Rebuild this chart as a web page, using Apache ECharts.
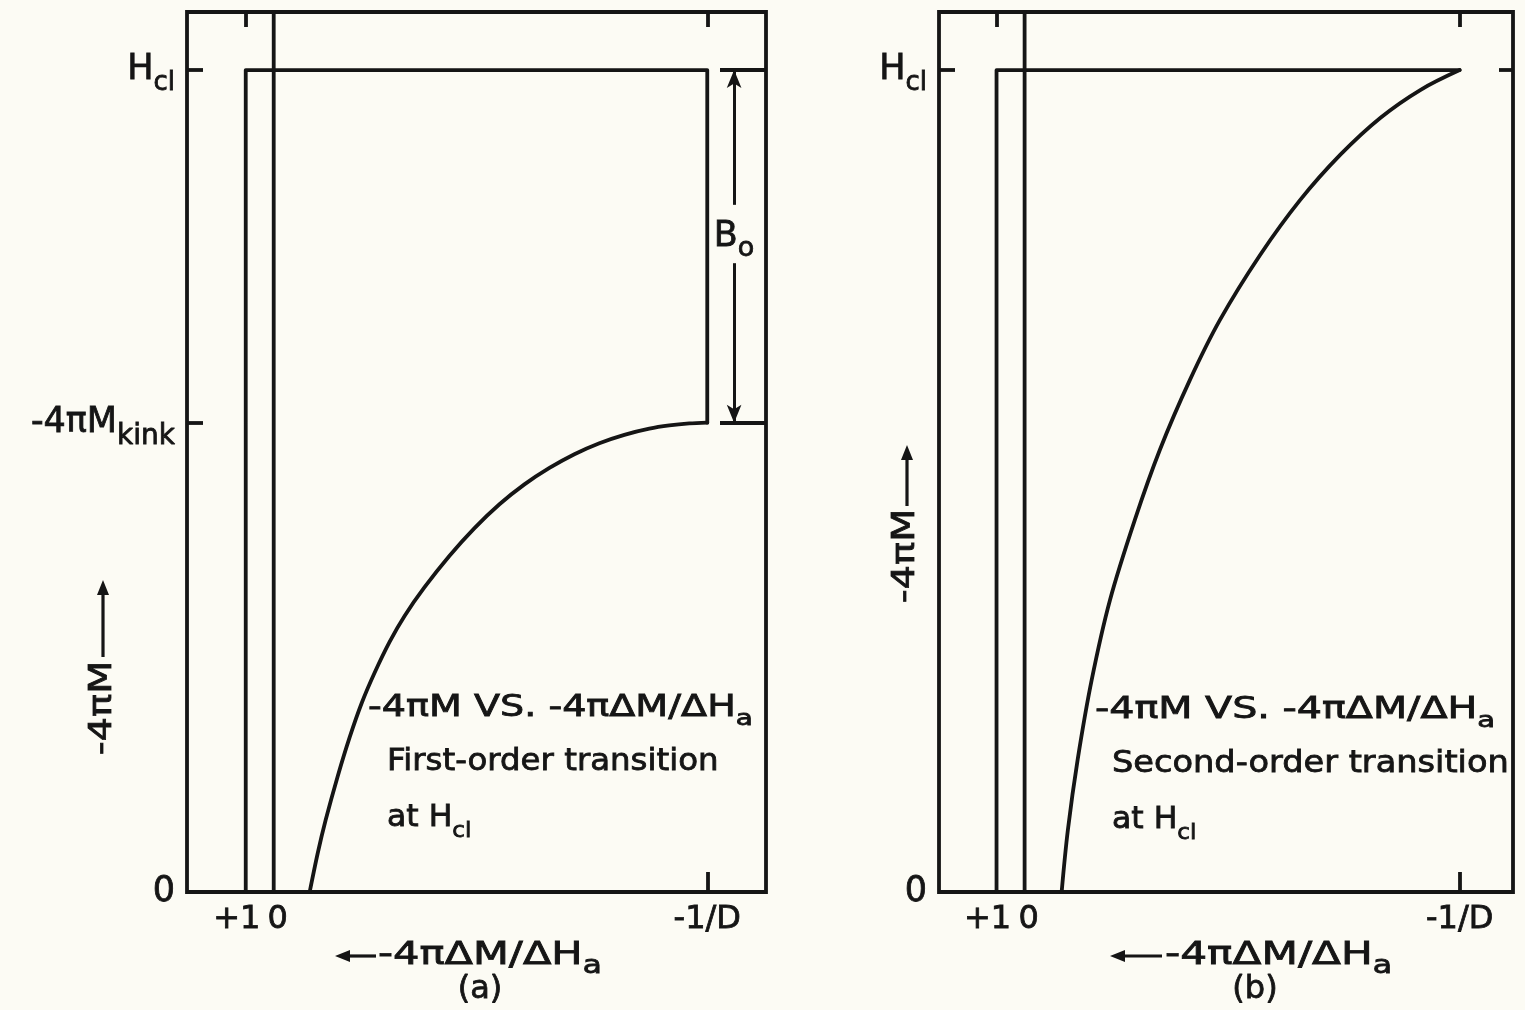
<!DOCTYPE html>
<html><head><meta charset="utf-8">
<script src="https://cdn.jsdelivr.net/npm/echarts@6/dist/echarts.min.js"></script>
<style>html,body{margin:0;padding:0;background:#fcfbf4}#c{width:1525px;height:1010px}</style>
</head><body><div id="c"></div>
<script>
// ---- data (x: -4πΔM/ΔHa in units where +1 is one step; y: -4πM in units of Hcl) ----
const HCL = 1;
const KINK = 0.571;
const INV_D = -15.5;           // position of -1/D
const Y_MAX = 1.0706;
const xTickValues = [1, 0, INV_D];
const xTickLabels = ['+1', '0', '-1/D'];
const topTickValues = [1, INV_D];

// panel (a): step path  +1 -> Hcl -> -1/D -> kink
const stepA_x = [1, 1, INV_D, INV_D];
const stepA_y = [0, HCL, HCL, KINK];
// panel (a): curve from the kink down to the axis
const curveA_x = [-15.5, -14.857, -14.143, -13.429, -12.536, -11.643, -10.75, -9.857, -8.964, -8.071, -7.179, -6.286, -5.393, -4.679, -4.143, -3.607, -3.143, -2.714, -2.286, -1.857, -1.571, -1.286];
const curveA_y = [0.571, 0.570, 0.5676, 0.5637, 0.5562, 0.5460, 0.5326, 0.5159, 0.4959, 0.4717, 0.4427, 0.4091, 0.3708, 0.3359, 0.3044, 0.2668, 0.2297, 0.1881, 0.1406, 0.0875, 0.0468, 0];

// panel (b): step path +1 -> Hcl -> -1/D
const stepB_x = [1, 1, INV_D];
const stepB_y = [0, HCL, HCL];
// panel (b): curve from Hcl down to the axis
const curveB_x = [-15.5, -14.11, -12.68, -11.25, -9.82, -8.39, -6.96, -5.89, -4.82, -3.93, -3.04, -2.39, -1.89, -1.54, -1.32];
const curveB_y = [1.0, 0.976, 0.942, 0.897, 0.842, 0.775, 0.696, 0.623, 0.538, 0.453, 0.355, 0.258, 0.161, 0.075, 0];

const zeroLine_x = [0, 0];
const zeroLine_y = [0, Y_MAX];

const zip = (xs, ys) => xs.map((x, i) => [x, ys[i]]);

// ---- styling ----
const FONT = '"DejaVu Sans", sans-serif';
const INK = '#151515';
const BG = '#fcfbf4';
const LW = 3.8;
const TB = 0.8; // text thickening stroke

const near = (a, b) => Math.abs(a - b) < 1e-6;
function xLabel(v) {
  if (near(v, 1)) return '{l|' + xTickLabels[0] + '}';
  if (near(v, 0)) return '{r|' + xTickLabels[1] + '}';
  if (near(v, INV_D)) return '{c|' + xTickLabels[2] + '}';
  return '';
}
const xRich = {
  l: { fontSize: 32, fontFamily: FONT, color: INK, textBorderColor: INK, textBorderWidth: TB, padding: [0, 18, 0, 0] },
  r: { fontSize: 32, fontFamily: FONT, color: INK, textBorderColor: INK, textBorderWidth: TB, padding: [0, 0, 0, 8] },
  c: { fontSize: 32, fontFamily: FONT, color: INK, textBorderColor: INK, textBorderWidth: TB }
};
function yLabel(v) {
  if (near(v, HCL)) return '{m|H}{s|cl}';
  if (near(v, KINK)) return '{m|-4πM}{k|kink}';
  if (near(v, 0)) return '{m|0}';
  return '';
}
const yRich = {
  m: { fontSize: 35, fontFamily: FONT, color: INK, textBorderColor: INK, textBorderWidth: TB },
  s: { fontSize: 26, fontFamily: FONT, color: INK, textBorderColor: INK, textBorderWidth: TB, padding: [26, 0, 0, 0] },
  k: { fontSize: 28, fontFamily: FONT, color: INK, textBorderColor: INK, textBorderWidth: TB, padding: [28, 0, 0, 0] }
};

function xBottom(grid, min, max) {
  return {
    type: 'value', gridIndex: grid, position: 'bottom', inverse: true, min, max,
    axisLine: { show: false, onZero: false }, splitLine: { show: false },
    axisTick: { show: true, inside: true, length: 20, customValues: [INV_D], lineStyle: { color: INK, width: LW } },
    axisLabel: { show: true, customValues: xTickValues, formatter: xLabel, rich: xRich, margin: 12,
      hideOverlap: false, showMinLabel: true, showMaxLabel: true }
  };
}
function xTop(grid, min, max) {
  return {
    type: 'value', gridIndex: grid, position: 'top', inverse: true, min, max,
    axisLine: { show: false, onZero: false }, splitLine: { show: false },
    axisTick: { show: true, inside: true, length: 15, customValues: topTickValues, lineStyle: { color: INK, width: LW } },
    axisLabel: { show: false }
  };
}
function yLeft(grid, labels, ticks) {
  return {
    type: 'value', gridIndex: grid, position: 'left', min: 0, max: Y_MAX,
    axisLine: { show: false, onZero: false }, splitLine: { show: false },
    axisTick: { show: true, inside: true, length: 16, customValues: ticks, lineStyle: { color: INK, width: LW } },
    axisLabel: { show: true, customValues: labels, formatter: yLabel, rich: yRich, margin: 12,
      hideOverlap: false, showMinLabel: true, showMaxLabel: true }
  };
}
function yRight(grid, ticks, len) {
  return {
    type: 'value', gridIndex: grid, position: 'right', min: 0, max: Y_MAX,
    axisLine: { show: false, onZero: false }, splitLine: { show: false },
    axisTick: { show: true, inside: true, length: len, customValues: ticks, lineStyle: { color: INK, width: LW } },
    axisLabel: { show: false }
  };
}
function line(data, xi, yi, smooth, extra) {
  return Object.assign({
    type: 'line', data, xAxisIndex: xi, yAxisIndex: yi, smooth: smooth || false,
    showSymbol: false, symbol: 'none', silent: true, clip: false,
    lineStyle: { color: INK, width: LW, cap: 'round', join: 'round' }
  }, extra || {});
}

const B0_X = -16.46;
const gText = (x, y, text, size, sx, rich, extra) => Object.assign({
  type: 'text', x, y, scaleX: sx || 1, silent: true,
  style: { text, fontSize: size, fontFamily: FONT, fill: INK, stroke: INK, lineWidth: TB, align: 'left', verticalAlign: 'middle', rich: rich || {} }
}, extra || {});
const subRich = (size, pad) => ({
  n: { fontSize: size, fontFamily: FONT, fill: INK, stroke: INK, lineWidth: TB },
  s: { fontSize: size - 8, fontFamily: FONT, fill: INK, stroke: INK, lineWidth: TB, padding: [pad, 0, 0, 0] }
});
const arrowLeft = (x1, x2, y) => [
  { type: 'line', silent: true, shape: { x1: x1 + 10, y1: y, x2, y2: y }, style: { stroke: INK, lineWidth: 3.2 } },
  { type: 'polygon', silent: true, shape: { points: [[x1, y], [x1 + 15, y - 6], [x1 + 15, y + 6]] }, style: { fill: INK } }
];
const arrowUp = (x, yTop, yBot) => [
  { type: 'line', silent: true, shape: { x1: x, y1: yTop + 10, x2: x, y2: yBot }, style: { stroke: INK, lineWidth: 3.2 } },
  { type: 'polygon', silent: true, shape: { points: [[x, yTop], [x - 6, yTop + 15], [x + 6, yTop + 15]] }, style: { fill: INK } }
];
const centered = (x, y, text) => ({
  type: 'text', x, y, silent: true,
  style: { text, fontSize: 32, fontFamily: FONT, fill: INK, stroke: INK, lineWidth: TB, align: 'center', verticalAlign: 'middle' }
});

const option = {
  backgroundColor: BG,
  animation: false,
  grid: [
    { left: 187, top: 12, width: 579, height: 880, show: true, borderColor: INK, borderWidth: LW, backgroundColor: 'transparent' },
    { left: 939, top: 12, width: 574, height: 880, show: true, borderColor: INK, borderWidth: LW, backgroundColor: 'transparent' }
  ],
  xAxis: [
    xBottom(0, -17.6, 3.1), xTop(0, -17.6, 3.1),
    xBottom(1, -17.4, 3.05), xTop(1, -17.4, 3.05)
  ],
  yAxis: [
    yLeft(0, [0, KINK, HCL], [KINK, HCL]), yRight(0, [KINK, HCL], 46),
    yLeft(1, [0, HCL], [HCL]), yRight(1, [HCL], 14)
  ],
  series: [
    line(zip(stepA_x, stepA_y), 0, 0),
    line(zip(curveA_x, curveA_y), 0, 0, 0.3),
    line(zip(zeroLine_x, zeroLine_y), 0, 0, false, {
      markLine: {
        silent: true, symbol: ['none', 'none'], symbolSize: [11, 18],
        lineStyle: { color: INK, width: 3, type: 'solid' }, label: { show: false },
        data: [
          [{ coord: [B0_X, HCL], symbol: 'arrow', symbolSize: [11, 18] }, { coord: [B0_X, 0.836], symbol: 'none' }],
          [{ coord: [B0_X, 0.765], symbol: 'none' }, { coord: [B0_X, KINK], symbol: 'arrow', symbolSize: [11, 18] }]
        ]
      },
      markPoint: {
        silent: true, symbol: 'circle', symbolSize: 1, itemStyle: { color: 'rgba(0,0,0,0)' },
        data: [{ coord: [B0_X, 0.797], label: { show: true, position: 'inside', formatter: '{b|B}{o|o}',
          rich: { b: { fontSize: 35, fontFamily: FONT, color: INK, textBorderColor: INK, textBorderWidth: TB },
                  o: { fontSize: 27, fontFamily: FONT, color: INK, textBorderColor: INK, textBorderWidth: TB, padding: [24, 0, 0, 0] } } } }]
      }
    }),
    line(zip(stepB_x, stepB_y), 2, 2),
    line(zip(curveB_x, curveB_y), 2, 2, 0.35),
    line(zip(zeroLine_x, zeroLine_y), 2, 2)
  ],
  graphic: [
    // panel (a) annotation
    gText(368, 708, '{n|-4πM VS. -4πΔM/ΔH}{s|a}', 30, 1.27, subRich(30, 22)),
    gText(387, 762, 'First-order transition', 30, 1.08),
    gText(387, 818, '{n|at H}{s|cl}', 30, 1.05, subRich(30, 26)),
    // panel (b) annotation
    gText(1095, 710, '{n|-4πM VS. -4πΔM/ΔH}{s|a}', 30, 1.32, subRich(30, 22)),
    gText(1112, 764, 'Second-order transition', 30, 1.12),
    gText(1112, 820, '{n|at H}{s|cl}', 30, 1.05, subRich(30, 26)),
    // x axis names
    ...arrowLeft(335, 376, 956),
    gText(378, 956, '{n|-4πΔM/ΔH}{s|a}', 32, 1.3, subRich(32, 22)),
    ...arrowLeft(1110, 1162, 956),
    gText(1165, 956, '{n|-4πΔM/ΔH}{s|a}', 32, 1.32, subRich(32, 22)),
    // panel captions
    centered(480, 990, '(a)'),
    centered(1255, 990, '(b)'),
    // y axis names (rotated)
    { type: 'text', x: 103, y: 708, rotation: Math.PI / 2, scaleX: 1.2, silent: true,
      style: { text: '-4πM', fontSize: 32, fontFamily: FONT, fill: INK, stroke: INK, lineWidth: TB, align: 'center', verticalAlign: 'middle' } },
    ...arrowUp(103, 580, 657),
    { type: 'text', x: 906, y: 556, rotation: Math.PI / 2, scaleX: 1.2, silent: true,
      style: { text: '-4πM', fontSize: 32, fontFamily: FONT, fill: INK, stroke: INK, lineWidth: TB, align: 'center', verticalAlign: 'middle' } },
    ...arrowUp(907, 445, 506)
  ]
};

const chart = echarts.init(document.getElementById('c'));
chart.setOption(option);
</script>
</body></html>
